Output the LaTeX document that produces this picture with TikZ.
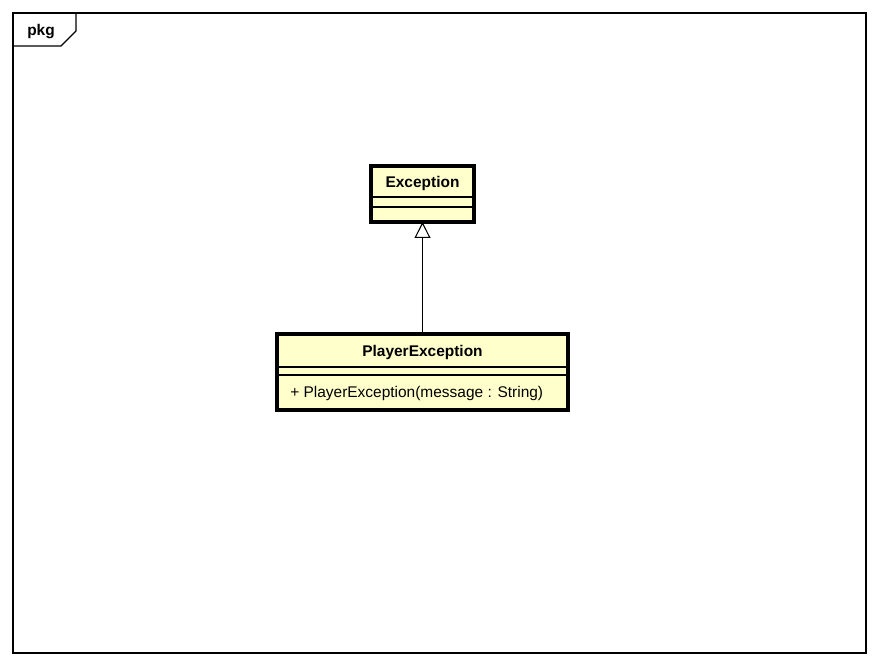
\documentclass[tikz,border=0pt]{standalone}
\usepackage{fontspec}
\setmainfont{Liberation Sans}
\usetikzlibrary{arrows.meta}
\definecolor{classfill}{RGB}{255,255,204}
\tikzset{
  classbox/.style={draw=black, line width=2.6pt, fill=classfill},
  sep/.style={draw=black, line width=0.8pt},
  frameline/.style={draw=black, line width=0.8pt},
  gen/.style={draw=black, line width=0.8pt, -{Triangle[open, length=12pt, width=12pt]}},
  cname/.style={font=\fontsize{11.6}{13}\selectfont\bfseries, inner sep=0pt},
  member/.style={font=\fontsize{11.6}{13}\selectfont, inner sep=0pt, anchor=west},
}
\begin{document}
\begin{tikzpicture}[x=0.75pt, y=-0.75pt]
  \useasboundingbox (0,0) rectangle (880,666);
  % package frame with name tab
  \draw[frameline] (13,13) rectangle (866,653);
  \draw[frameline] (13,46) -- (61,46) -- (76,31) -- (76,13);
  \node[font=\fontsize{11.6}{13}\selectfont\bfseries, inner sep=0pt] (pkg) at (41,32) {pkg};

  % class Exception
  \draw[classbox] (371,166) rectangle (474,222);
  \coordinate (excTop) at (422.5,166);
  \coordinate (excBot) at (422.5,222);
  \draw[sep] (371,197) -- (474,197);
  \draw[sep] (371,207) -- (474,207);
  \node[cname] (exc) at (422.5,184) {Exception};

  % class PlayerException
  \draw[classbox] (277,334) rectangle (568,410);
  \coordinate (plTop) at (422.5,334);
  \draw[sep] (277,367) -- (568,367);
  \draw[sep] (277,375) -- (568,375);
  \node[cname] (pl) at (422.5,352) {PlayerException};
  \node[member] (ctor) at (290,393.5) {+ PlayerException(message : String)};

  % generalization
  \draw[gen] (plTop) -- (excBot);
\end{tikzpicture}
\end{document}
